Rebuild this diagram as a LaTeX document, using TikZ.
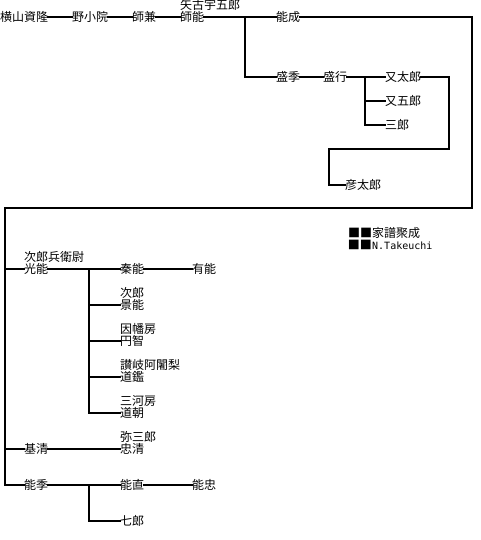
\documentclass[tikz,border=0pt]{standalone}
\usepackage{fontspec}
\newfontfamily\jpfont{Noto Sans CJK JP}
\newfontfamily\monofont{DejaVu Sans Mono}
\begin{document}
\begin{tikzpicture}[x=1pt,y=-1pt,
  nm/.style={anchor=west,inner sep=0pt,text height=10.5pt,text depth=1.5pt,font=\jpfont\fontsize{12}{12}\selectfont},
  ln/.style={line width=1.9pt,line cap=rect},
  cr/.style={anchor=west,inner sep=0pt,text height=10.5pt,text depth=1.5pt,font=\jpfont\fontsize{12}{12}\selectfont}]
\useasboundingbox (0,0) rectangle (480,540);
% top row
\node[nm] (a1) at (0,17) {横山資隆};
\node[nm] (a2) at (72,17) {野小院};
\node[nm] (a3) at (132,17) {師兼};
\node[nm] (a4) at (180,17) {師能};
\node[nm] (a4t) at (180,5) {矢古宇五郎};
\node[nm] (b1) at (276,17) {能成};
\node[nm] (b2) at (276,77) {盛季};
\node[nm] (b3) at (323,77) {盛行};
\node[nm] (c1) at (385,77) {又太郎};
\node[nm] (c2) at (385,101) {又五郎};
\node[nm] (c3) at (385,125) {三郎};
\node[nm] (c4) at (345,185) {彦太郎};
\coordinate (j1) at (245,17);
\coordinate (j2) at (365,77);
\coordinate (tr) at (472,17);
\coordinate (br) at (472,208);
\coordinate (bl) at (5,208);
\draw[ln] (a1.east) -- (a2.west);
\draw[ln] (a2.east) -- (a3.west);
\draw[ln] (a3.east) -- (a4.west);
\draw[ln] (a4.east) -- (j1) -- (b1.west);
\draw[ln] (j1) |- (b2.west);
\draw[ln] (b2.east) -- (b3.west);
\draw[ln] (b3.east) -- (j2) -- (c1.west);
\draw[ln] (j2) |- (c3.west);
\draw[ln] (j2 |- c2.west) -- (c2.west);
\draw[ln] (c1.east) -- (449,77) -- (449,149) -- (329,149) |- (c4.west);
% credit
\node[cr] (cr1) at (348,233) {■■家譜聚成};
\node[cr,font=\monofont\fontsize{10}{10}\selectfont] (cr2) at (372,245) {N.Takeuchi};
\node[cr,anchor=east] (cr2s) at (cr2.west) {■■};
% lower part
\node[nm] (d1) at (24,269) {光能};
\node[nm] (d1t) at (24,257) {次郎兵衛尉};
\node[nm] (e1) at (120,269) {秦能};
\node[nm] (f1) at (192,269) {有能};
\node[nm] (e2) at (120,305) {景能};
\node[nm] (e2t) at (120,293) {次郎};
\node[nm] (e3) at (120,341) {円智};
\node[nm] (e3t) at (120,329) {因幡房};
\node[nm] (e4) at (120,377) {道鑑};
\node[nm] (e4t) at (120,365) {讃岐阿闍梨};
\node[nm] (e5) at (120,413) {道朝};
\node[nm] (e5t) at (120,401) {三河房};
\node[nm] (d2) at (24,449) {基清};
\node[nm] (g1) at (120,449) {忠清};
\node[nm] (g1t) at (120,437) {弥三郎};
\node[nm] (d3) at (24,485) {能季};
\node[nm] (h1) at (120,485) {能直};
\node[nm] (i1) at (192,485) {能忠};
\node[nm] (h2) at (120,521) {七郎};
\coordinate (k1) at (89,269);
\coordinate (k2) at (89,485);
\draw[ln] (b1.east) -- (tr) -- (br) -- (bl) |- (d3.west);
\draw[ln] (bl |- d1.west) -- (d1.west);
\draw[ln] (bl |- d2.west) -- (d2.west);
\draw[ln] (d1.east) -- (k1) -- (e1.west);
\draw[ln] (e1.east) -- (f1.west);
\draw[ln] (k1) |- (e5.west);
\draw[ln] (k1 |- e2.west) -- (e2.west);
\draw[ln] (k1 |- e3.west) -- (e3.west);
\draw[ln] (k1 |- e4.west) -- (e4.west);
\draw[ln] (d2.east) -- (g1.west);
\draw[ln] (d3.east) -- (k2) -- (h1.west);
\draw[ln] (h1.east) -- (i1.west);
\draw[ln] (k2) |- (h2.west);
\end{tikzpicture}
\end{document}
